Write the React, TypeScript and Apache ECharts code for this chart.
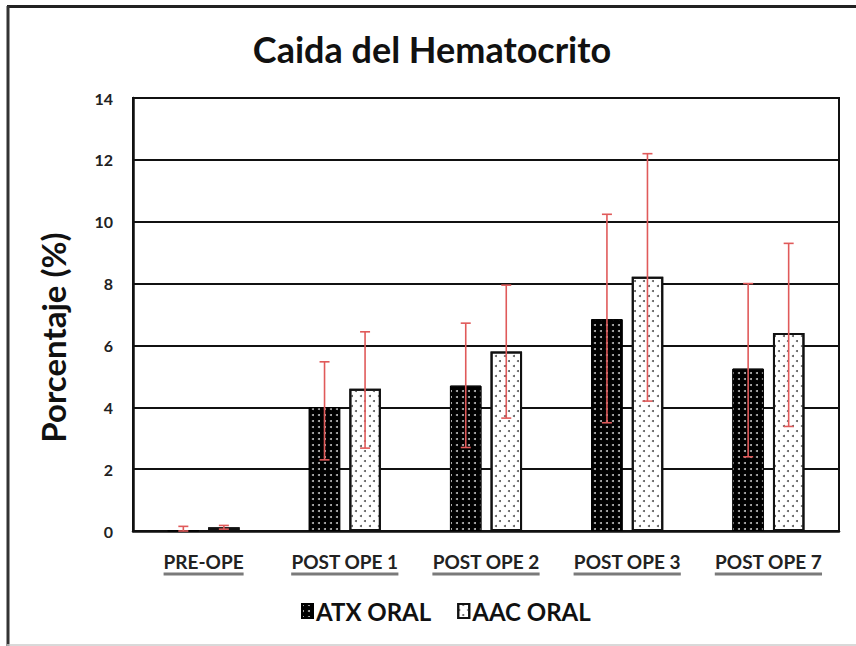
import React, { useEffect, useRef } from "react";
import * as echarts from "echarts";

const categories = ["PRE-OPE", "POST OPE 1", "POST OPE 2", "POST OPE 3", "POST OPE 7"];
const seriesNames = ["ATX ORAL", "AAC ORAL"];
const atxValues = [0.02, 4.0, 4.7, 6.85, 5.25];
const aacValues = [0.12, 4.6, 5.8, 8.22, 6.4];
const atxLow = [0, 2.3, 2.7, 3.5, 2.4];
const atxHigh = [0.15, 5.47, 6.72, 10.24, 8.0];
const aacLow = [0.06, 2.68, 3.65, 4.2, 3.38];
const aacHigh = [0.18, 6.44, 7.95, 12.2, 9.3];
const yTicks = [0, 2, 4, 6, 8, 10, 12, 14];

const FONT = "Lato";

export default function App() {
  const ref = useRef<HTMLDivElement>(null);
  useEffect(() => {
    document.body.style.margin = "0";
    const chart = echarts.init(ref.current!, null, { renderer: "svg" });

    const ctx = document.createElement("canvas").getContext("2d")!;
    ctx.font = `bold 19px ${FONT}`;
    const rich: any = {
      t: { fontFamily: FONT, fontWeight: "bold", fontSize: 19, color: "#222", lineHeight: 19 },
    };
    categories.forEach((c, i) => {
      rich["u" + i] = {
        width: ctx.measureText(c).width,
        height: 3,
        lineHeight: 6,
        backgroundColor: "#7a7a7a",
        fontSize: 1,
      };
    });

    const barWidthFrac = 0.223;
    const gapFrac = 0.064;
    const offFrac = (barWidthFrac + gapFrac) / 2;

    const errData = (low: number[], high: number[]) =>
      categories.map((_, i) => [i, low[i], high[i]]);

    const makeErr = (sign: number) => (params: any, api: any) => {
      const i = api.value(0);
      const band = api.size([1, 0])[0];
      const pLow = api.coord([i, api.value(1)]);
      const pHigh = api.coord([i, api.value(2)]);
      const x = pLow[0] + sign * offFrac * band;
      const cap = 5;
      const style = { stroke: "#e05a5a", lineWidth: 1.6 };
      return {
        type: "group",
        children: [
          { type: "line", shape: { x1: x, y1: pLow[1], x2: x, y2: pHigh[1] }, style },
          { type: "line", shape: { x1: x - cap, y1: pLow[1], x2: x + cap, y2: pLow[1] }, style },
          { type: "line", shape: { x1: x - cap, y1: pHigh[1], x2: x + cap, y2: pHigh[1] }, style },
        ],
      };
    };

    chart.setOption({
      animation: false,
      backgroundColor: "#ffffff",
      title: {
        text: "Caida del Hematocrito",
        left: 427,
        textAlign: "center",
        top: 26,
        textStyle: { fontFamily: FONT, fontWeight: "bold", fontSize: 36, color: "#111" },
      },
      graphic: [
        { type: "line", shape: { x1: 7, y1: 6.5, x2: 856, y2: 6.5 }, style: { stroke: "#222", lineWidth: 3 } },
        { type: "line", shape: { x1: 8, y1: 6, x2: 8, y2: 646 }, style: { stroke: "#333", lineWidth: 3 } },
        { type: "line", shape: { x1: 7, y1: 645, x2: 856, y2: 645 }, style: { stroke: "#ccc", lineWidth: 1.5 } },
      ],
      legend: {
        data: seriesNames,
        left: 296,
        top: 594,
        icon: "rect",
        itemWidth: 11,
        itemHeight: 14,
        itemGap: 26,
        textStyle: { fontFamily: FONT, fontWeight: "bold", fontSize: 24, color: "#111", padding: [0, 0, 0, -2] },
      },
      grid: {
        left: 133,
        right: 17,
        top: 98,
        bottom: 115,
        show: true,
        borderColor: "#111",
        borderWidth: 2,
      },
      xAxis: {
        type: "category",
        data: categories,
        axisLine: { lineStyle: { color: "#111", width: 2.5 } },
        axisTick: { show: false },
        axisLabel: {
          margin: 21,
          interval: 0,
          formatter: (v: string) => `{t|${v}}\n{u${categories.indexOf(v)}| }`,
          rich,
        },
      },
      yAxis: {
        type: "value",
        min: 0,
        max: 14,
        interval: 2,
        name: "Porcentaje (%)",
        nameLocation: "middle",
        nameGap: 64,
        nameTextStyle: {
          fontFamily: FONT,
          fontWeight: "bold",
          fontSize: 33,
          color: "#111",
          padding: [0, 46, 0, 0],
        },
        axisLine: { show: true, lineStyle: { color: "#111", width: 2.5 } },
        axisTick: { show: false },
        axisLabel: {
          margin: 20,
          fontFamily: FONT,
          fontWeight: "bold",
          fontSize: 16,
          color: "#222",
          formatter: (v: number) => (yTicks.includes(v) ? String(v) : ""),
        },
        splitLine: { lineStyle: { color: "#111", width: 2 } },
      },
      series: [
        {
          name: seriesNames[0],
          type: "bar",
          data: atxValues,
          barWidth: (barWidthFrac * 100).toFixed(1) + "%",
          barGap: ((gapFrac / barWidthFrac) * 100).toFixed(0) + "%",
          itemStyle: {
            color: "#000",
            borderColor: "#000",
            borderWidth: 1,
            decal: {
              symbol: "circle",
              symbolSize: 1,
              color: "#bbbbbb",
              dashArrayX: [1.6, 3.9],
              dashArrayY: [1.6, 3.8],
            },
          },
        },
        {
          name: seriesNames[1],
          type: "bar",
          data: aacValues,
          barWidth: (barWidthFrac * 100).toFixed(1) + "%",
          itemStyle: {
            color: "#fff",
            borderColor: "#111",
            borderWidth: 2,
            decal: {
              symbol: "circle",
              symbolSize: 1,
              color: "#555",
              dashArrayX: [[1.6, 6.4], [0, 4, 1.6, 2.4]],
              dashArrayY: [1.6, 2.4],
            },
          },
        },
        {
          name: "errATX",
          type: "custom",
          renderItem: makeErr(-1),
          data: errData(atxLow, atxHigh),
          encode: { x: 0, y: [1, 2] },
          z: 10,
          silent: true,
        },
        {
          name: "errAAC",
          type: "custom",
          renderItem: makeErr(1),
          data: errData(aacLow, aacHigh),
          encode: { x: 0, y: [1, 2] },
          z: 10,
          silent: true,
        },
      ],
    });
    return () => chart.dispose();
  }, []);
  return <div ref={ref} style={{ width: 856, height: 646 }} />;
}
